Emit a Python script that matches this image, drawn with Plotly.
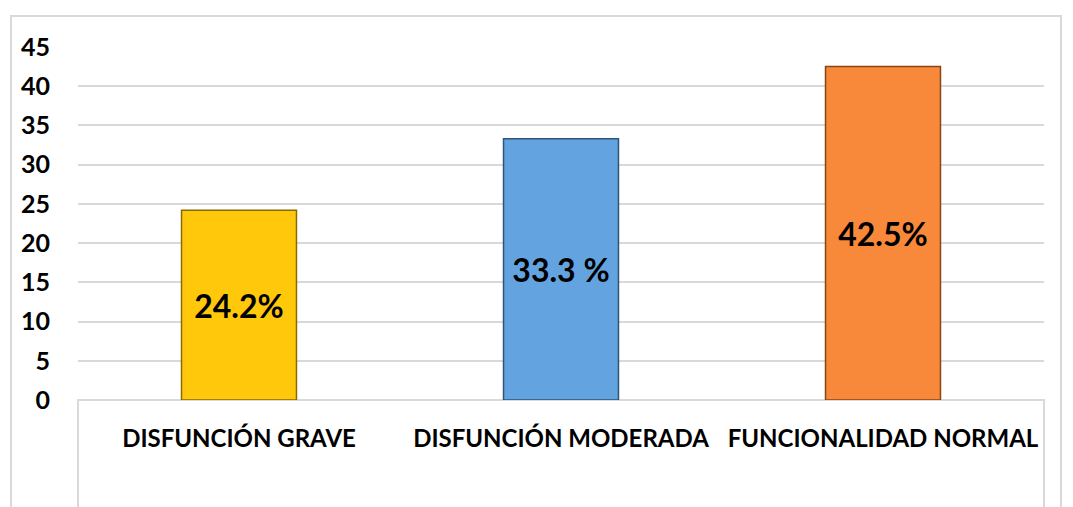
import plotly.graph_objects as go

categories = ["DISFUNCIÓN GRAVE", "DISFUNCIÓN MODERADA", "FUNCIONALIDAD NORMAL"]
values = [24.2, 33.3, 42.5]
labels = ["24.2%", "33.3 %", "42.5%"]
colors = ["#FFC80A", "#63A4E0", "#F8883A"]
edge_colors = ["#8A6A00", "#2E5578", "#8A4515"]
y_ticks = [0, 5, 10, 15, 20, 25, 30, 35, 40, 45]

fig = go.Figure()
fig.add_trace(go.Bar(
    x=categories, y=values, text=labels,
    textposition="inside", insidetextanchor="middle",
    textfont=dict(family="Lato", size=32, color="black", weight="bold"),
    marker=dict(color=colors, line=dict(color=edge_colors, width=1.5)),
    width=0.357, hoverinfo="skip",
))

# page body has an 8px margin, so the figure is 8px smaller and shifted
fig.update_layout(
    width=1065, height=499,
    margin=dict(l=70, r=29, t=39, b=107),
    paper_bgcolor="white", plot_bgcolor="white",
    showlegend=False,
    font=dict(family="Lato", color="black"),
    uniformtext=dict(mode=False),
)
fig.update_yaxes(
    range=[0, 45], tickvals=y_ticks, showgrid=True, gridcolor="#D9D9D9", gridwidth=1.5,
    zeroline=False, showline=False, ticks="",
    tickfont=dict(family="Lato", size=25, color="black", weight="bold"),
    ticklabelstandoff=27,
)
fig.update_xaxes(
    showgrid=False, showline=False, ticks="",
    tickfont=dict(family="Lato", size=24, color="black", weight="bold"),
    ticklabelstandoff=22,
)
# outer chart frame
fig.add_shape(type="rect", xref="paper", yref="paper",
              x0=-0.0694, x1=1.0176, y0=-0.40, y1=1.088,
              line=dict(color="#D9D9D9", width=2), fillcolor="rgba(0,0,0,0)", layer="below")
# category axis box below plot
fig.add_shape(type="rect", xref="paper", yref="paper",
              x0=0, x1=1, y0=-0.40, y1=0,
              line=dict(color="#D9D9D9", width=2), fillcolor="rgba(0,0,0,0)", layer="below")

fig.write_html("out.html")
